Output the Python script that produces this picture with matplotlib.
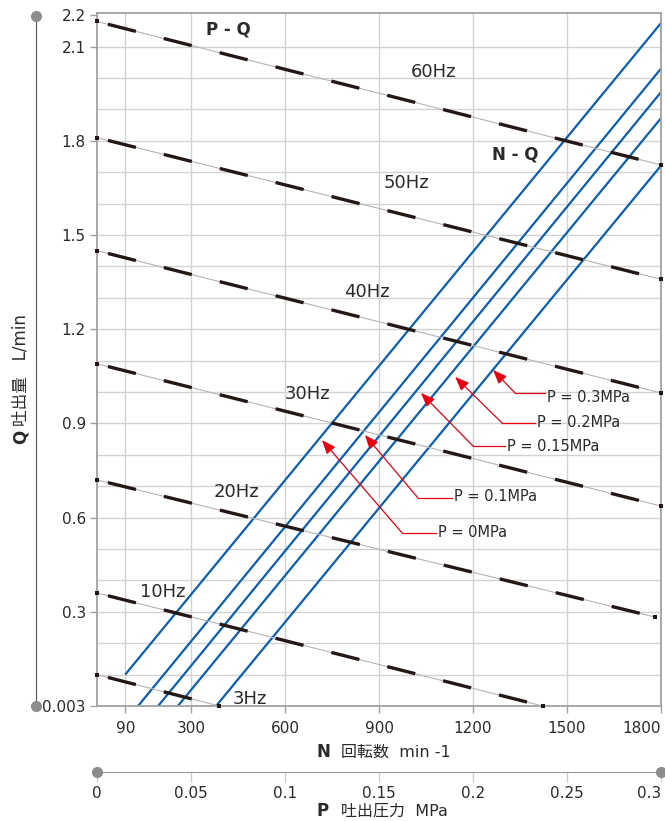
import numpy as np
import matplotlib as mpl
mpl.use('Agg')
from matplotlib import pyplot as plt

plt.rcParams['font.family'] = ['DejaVu Sans', 'Noto Sans CJK JP']
plt.rcParams['lines.scale_dashes'] = False

ink = '#2a2a2a'
blue = '#0a5fae'
red = '#e60012'
gridc = '#d2d2d2'
framec = '#a0a0a0'

# P-Q lines (x in MPa, y in L/min)
freq_labels = ['60Hz', '50Hz', '40Hz', '30Hz', '20Hz', '10Hz', '3Hz']
pq_p_start = [0, 0, 0, 0, 0, 0, 0]
pq_q_start = [2.18, 1.81, 1.45, 1.09, 0.72, 0.36, 0.10]
pq_p_end = [0.3, 0.3, 0.3, 0.3, 0.297, 0.237, 0.065]
pq_q_end = [1.723, 1.359, 0.997, 0.637, 0.283, 0.0, 0.0]
freq_label_n = [1075, 986, 862, 673, 444, 211, 488]
freq_label_q = [2.019, 1.666, 1.318, 0.994, 0.682, 0.363, 0.022]

# N-Q lines (x in min-1, y in L/min)
nq_labels = ['P = 0MPa', 'P = 0.1MPa', 'P = 0.15MPa', 'P = 0.2MPa', 'P = 0.3MPa']
nq_n_start = [90, 131, 195, 258, 380]
nq_q_start = [0.1, 0, 0, 0, 0]
nq_n_end = [1800, 1800, 1800, 1800, 1800]
nq_q_end = [2.175, 2.03, 1.955, 1.872, 1.721]

# callouts for the N-Q lines
tip_n = [718, 855, 1034, 1143, 1264]
tip_q = [0.847, 0.863, 0.997, 1.048, 1.070]
elbow_n = [973, 1024, 1200, 1293, 1334]
elbow_q = [0.552, 0.663, 0.828, 0.901, 0.997]
text_n = [1088, 1139, 1309, 1404, 1436]
text_q = [0.551, 0.666, 0.825, 0.904, 0.981]

n_ticks = [90, 300, 600, 900, 1200, 1500, 1800]
q_ticks = [0, 0.3, 0.6, 0.9, 1.2, 1.5, 1.8, 2.1, 2.2]
q_tick_labels = ['0.003', '0.3', '0.6', '0.9', '1.2', '1.5', '1.8', '2.1', '2.2']
p_ticks = [0, 0.05, 0.1, 0.15, 0.2, 0.25, 0.3]
p_tick_labels = ['0', '0.05', '0.1', '0.15', '0.2', '0.25', '0.3']

W, H = 665, 821
fig = plt.figure(figsize=(W / 100, H / 100), dpi=100)
L, B, R, T = 97, 706, 661, 13
ax = fig.add_axes([L / W, 1 - B / H, (R - L) / W, (B - T) / H])
ax.set_xlim(0, 1800)
ax.set_ylim(0, 2.207)

# grid
ax.set_xticks(n_ticks)
ax.set_xticklabels([str(v) for v in n_ticks])
ax.set_yticks(q_ticks)
ax.set_yticklabels(q_tick_labels)
for v in n_ticks[:-1]:
    ax.axvline(v, color=gridc, lw=1, zorder=0)
for v in np.arange(1, 22) / 10:
    ax.axhline(v, color=gridc, lw=1, zorder=0)
for s in ax.spines.values():
    s.set_color(framec)
    s.set_linewidth(1.3)
ax.tick_params(axis='both', colors=framec, labelcolor=ink, labelsize=11, length=5, width=1)
ax.tick_params(axis='x', pad=6)
ax.tick_params(axis='y', pad=3)

# N-Q lines
for i in range(len(nq_labels)):
    ax.plot([nq_n_start[i], nq_n_end[i]], [nq_q_start[i], nq_q_end[i]],
            color=blue, lw=1.6, zorder=2, solid_capstyle='butt')

# callouts
for i in range(len(nq_labels)):
    ax.plot([elbow_n[i], text_n[i] - 6], [elbow_q[i], elbow_q[i]], color=red, lw=0.9, zorder=3)
    ax.annotate('', xy=(tip_n[i], tip_q[i]), xytext=(elbow_n[i], elbow_q[i]),
                arrowprops=dict(arrowstyle='-|>,head_length=0.7,head_width=0.28',
                                color=red, lw=0.9, shrinkA=0, shrinkB=0,
                                mutation_scale=12), zorder=3)
    ax.text(text_n[i], text_q[i], nq_labels[i], ha='left', va='center',
            fontsize=10.5, color=ink, zorder=4)

for i in range(len(freq_labels)):
    ax.text(freq_label_n[i], freq_label_q[i], freq_labels[i], ha='center', va='center',
            fontsize=13, color=ink)
ax.text(418, 2.153, 'P - Q', ha='center', va='center', fontsize=12, fontweight='bold', color=ink)
ax.text(1334, 1.755, 'N - Q', ha='center', va='center', fontsize=12, fontweight='bold', color=ink)

# P-Q lines on a pressure scale over the same box
ax_pq = ax.twiny()
ax_pq.set_xlim(0, 0.3)
ax_pq.set_axis_off()
for i in range(len(freq_labels)):
    xs = [pq_p_start[i], pq_p_end[i]]
    ys = [pq_q_start[i], pq_q_end[i]]
    ax_pq.plot(xs, ys, color='#b4b4b4', lw=0.8, zorder=3)
    ax_pq.plot(xs, ys, color='#231815', lw=2.4, linestyle=(33.4, (20.8, 20.7)),
               solid_capstyle='butt', dash_capstyle='butt', zorder=4)
    ax_pq.plot(xs, ys, 's', color='#231815', ms=2.6, mew=0, zorder=5, clip_on=False)

# left Q scale line
ax_q = fig.add_axes([36 / W, 1 - B / H, 0.0001, (B - T) / H])
ax_q.set_ylim(0, 2.207)
ax_q.set_xlim(-1, 1)
for k in ['top', 'right', 'bottom']:
    ax_q.spines[k].set_visible(False)
ax_q.spines['left'].set_position(('data', 0))
ax_q.spines['left'].set_color('#555555')
ax_q.spines['left'].set_bounds(0, 2.197)
ax_q.set_xticks([])
ax_q.set_yticks([])
ax_q.patch.set_visible(False)
ax_q.plot([0, 0], [0, 2.197], 'o', color='#8c8c8c', ms=7, clip_on=False, zorder=5)

# bottom P scale line
ax_p = fig.add_axes([L / W, 1 - 772 / H, (R - L) / W, 0.0001])
ax_p.set_xlim(0, 0.3)
ax_p.set_ylim(-1, 1)
for k in ['top', 'right', 'left']:
    ax_p.spines[k].set_visible(False)
ax_p.spines['bottom'].set_position(('data', 0))
ax_p.spines['bottom'].set_color('#999999')
ax_p.set_yticks([])
ax_p.set_xticks(p_ticks)
ax_p.set_xticklabels(p_tick_labels)
ax_p.tick_params(axis='x', colors='#cccccc', labelcolor=ink, labelsize=11, length=7, width=1, pad=3)
ax_p.patch.set_visible(False)
ax_p.plot([0, 0.3], [0, 0], 'o', color='#8c8c8c', ms=7, clip_on=False, zorder=5)

# last labels sit inside the right edge, as in the print
ax.get_xticklabels()[-1].set_ha('right')
ax_p.get_xticklabels()[-1].set_ha('right')

# axis titles
fig.text(323 / W, 1 - 752 / H, 'N', ha='center', va='center', fontsize=12, fontweight='bold', color=ink)
fig.text(341 / W, 1 - 752 / H, '回転数  min -1', ha='left', va='center', fontsize=11.5, color=ink)
fig.text(323 / W, 1 - 811 / H, 'P', ha='center', va='center', fontsize=12, fontweight='bold', color=ink)
fig.text(341 / W, 1 - 811 / H, '吐出圧力  MPa', ha='left', va='center', fontsize=11.5, color=ink)
fig.text(21 / W, 1 - 437 / H, 'Q', ha='center', va='center', rotation=90, fontsize=12, fontweight='bold', color=ink)
fig.text(21 / W, 1 - 426 / H, '吐出量   L/min', ha='center', va='bottom', rotation=90, fontsize=12, color=ink)

fig.savefig('out.png', dpi=100)
